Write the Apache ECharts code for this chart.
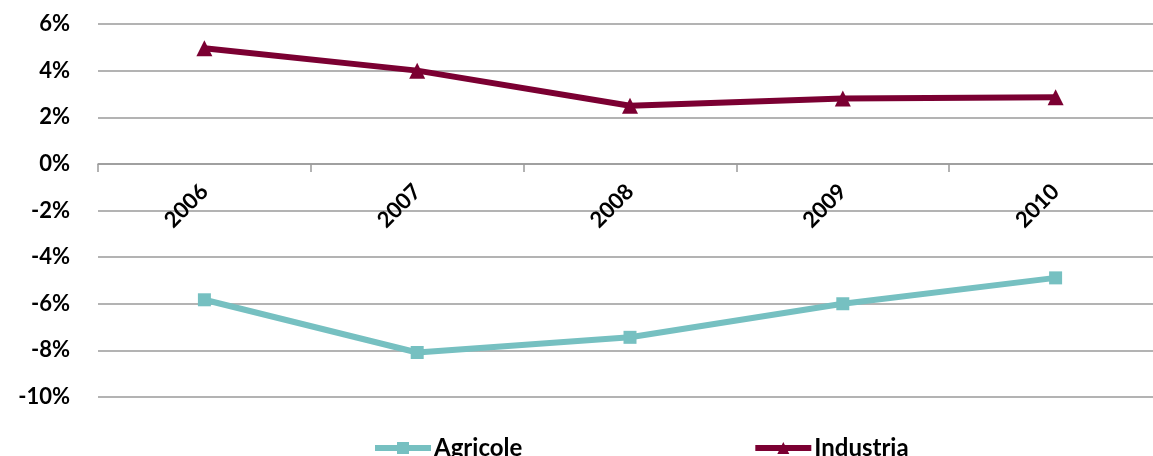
<!DOCTYPE html>
<html><head><meta charset="utf-8">
<script src="https://cdn.jsdelivr.net/npm/echarts@6/dist/echarts.min.js"></script>
<style>html,body{margin:0;padding:0;background:#fff}#c{width:1153px;height:456px}</style>
</head><body><div id="c"></div>
<script>
const categories = ['2006','2007','2008','2009','2010'];
const agricole = [-5.83, -8.09, -7.44, -6.0, -4.89];
const industria = [4.96, 4.0, 2.49, 2.8, 2.86];
const yTicks = [-10, -8, -6, -4, -2, 0, 2, 4, 6];

const chart = echarts.init(document.getElementById('c'));
const font = 'Lato, "Open Sans", sans-serif';
chart.setOption({
  animation: false,
  grid: { left: 98, width: 1064, top: 24, bottom: 59, containLabel: false, outerBoundsMode: 'none' },
  xAxis: {
    type: 'category', data: categories, boundaryGap: true,
    axisLine: { onZero: true, lineStyle: { color: '#9a9a9a', width: 1.5 } },
    axisTick: { show: true, length: 8, lineStyle: { color: '#9a9a9a', width: 1.5 } },
    axisLabel: { rotate: 45, margin: -209, color: '#000', fontWeight: 'bold', fontSize: 22, fontFamily: font },
    splitLine: { show: false }
  },
  yAxis: {
    type: 'value', min: yTicks[0], max: yTicks[yTicks.length-1], interval: 2,
    axisLine: { show: false }, axisTick: { show: false },
    axisLabel: { formatter: '{value}%', margin: 28, color: '#000', fontWeight: 'bold', fontSize: 22, fontFamily: font },
    splitLine: { lineStyle: { color: '#9a9a9a', width: 1.5 } }
  },
  legend: {
    bottom: -9, left: 367, itemGap: 230, itemWidth: 56, itemHeight: 15,
    lineStyle: { width: 6 },
    textStyle: { color: '#000', fontWeight: 'bold', fontSize: 24, fontFamily: font, padding: [0,0,0,-2] },
    data: ['Agricole','Industria']
  },
  series: [
    { name: 'Agricole', type: 'line', data: agricole, symbol: 'rect', symbolSize: 13,
      lineStyle: { color: '#76c0c1', width: 6 }, itemStyle: { color: '#76c0c1' } },
    { name: 'Industria', type: 'line', data: industria, symbol: 'triangle', symbolSize: 16,
      lineStyle: { color: '#7b0032', width: 6 }, itemStyle: { color: '#7b0032' } }
  ]
});
</script></body></html>
